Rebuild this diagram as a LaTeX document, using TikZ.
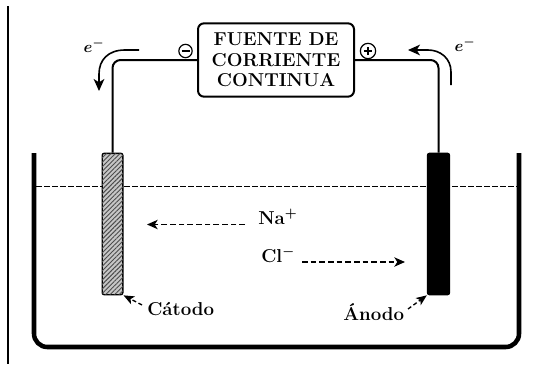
\documentclass[tikz,border=0pt]{standalone}
\usepackage{fontspec}
\usepackage{amsmath}
\usetikzlibrary{arrows.meta,patterns.meta,positioning}
\tikzset{
  x=0.75pt,y=-0.75pt,
  wire/.style={line width=1.5pt,rounded corners=6pt},
  elecbase/.style={draw=black,line width=1pt,rounded corners=1.5pt,minimum width=15.5pt,minimum height=106pt,inner sep=0pt},
  flow/.style={line width=1.2pt,-{Stealth[length=9pt,width=8pt,inset=2.5pt]}},
  ion/.style={line width=1pt,dash pattern=on 4.2pt off 2.3pt,-{Stealth[length=8pt,width=7pt,inset=2.2pt]}},
  pointer/.style={line width=1pt,dash pattern=on 3pt off 2pt,-{Stealth[length=8pt,width=6.5pt,inset=2pt]}},
  lab/.style={inner sep=0pt,font=\fontsize{14pt}{16pt}\selectfont\bfseries\addfontfeature{LetterSpace=4}},
  sign/.style={circle,draw=black,line width=0.9pt,inner sep=0pt},
  elec/.style={inner sep=0pt,font=\fontsize{13pt}{15pt}\selectfont},
}
\begin{document}
\begin{tikzpicture}
\useasboundingbox (0,0) rectangle (549,364);
\fill[white] (0,0) rectangle (549,364);
% page rule
\coordinate (ruleA) at (8,6);
\coordinate (ruleB) at (8,364);
\draw[line width=1.6pt] (ruleA) -- (ruleB);
% tank
\coordinate (tankTL) at (34,153);
\coordinate (tankBL) at (34,347);
\coordinate (tankBR) at (519,347);
\coordinate (tankTR) at (519,153);
\draw[line width=3.4pt,rounded corners=10pt] (tankTL) -- (tankBL) -- (tankBR) -- (tankTR);
% water level
\coordinate (waterL) at (36,186.5);
\coordinate (waterR) at (517,186.5);
\draw[line width=1pt,dash pattern=on 4.2pt off 1.8pt] (waterL) -- (waterR);
% electrodes
\node[elecbase,fill=gray!45,postaction={pattern={Lines[angle=45,distance=2.4pt,line width=0.7pt]},pattern color=black!70}] (cat) at (112.5,224) {};
\node[elecbase,fill=black,minimum width=16.5pt] (ano) at (438.5,224) {};
% source
\node[draw=black,line width=1.5pt,rounded corners=4.5pt,minimum width=117pt,minimum height=55pt,inner sep=0pt,align=center,
  font=\fontsize{14pt}{15.4pt}\selectfont\bfseries\addfontfeature{LetterSpace=18}] (src) at (276,60) {FUENTE DE\\CORRIENTE\\CONTINUA};
% wires
\draw[wire] (src.west) -| (cat.north);
\draw[wire] (src.east) -| (ano.north);
% signs
\node[sign,minimum size=10pt] (neg) at (185.5,51) {};
\node[sign,minimum size=11.5pt] (pos) at (368,51) {};
\draw[line width=1.1pt] ([xshift=-3pt]neg.center) -- ([xshift=3pt]neg.center);
\draw[line width=0.8pt] ([xshift=-3pt]pos.center) -- ([xshift=3pt]pos.center);
\draw[line width=0.8pt] ([yshift=-3pt]pos.center) -- ([yshift=3pt]pos.center);
% electron flow
\node[elec] (eL) at (94,46) {$\boldsymbol{e^{-}}$};
\node[elec] (eR) at (465,45) {$\boldsymbol{e^{-}}$};
\coordinate (flAs) at (139,50);
\coordinate (flAe) at (99,91);
\coordinate (frAs) at (451,85);
\coordinate (frAe) at (408,50);
\draw[flow] (flAs) -- (125,50) .. controls (108,50) and (99,60) .. (99,74) -- (flAe);
\draw[flow] (frAs) -- (451,72) .. controls (451,58) and (440,50) .. (428,50) -- (frAe);
% ions
\node[lab,anchor=base west] (na) at (258,224) {Na$^{\boldsymbol{+}}$};
\node[lab,anchor=base west] (cl) at (261,262) {Cl$^{\boldsymbol{-}}$};
\coordinate (naBeg) at (245,224.5);
\coordinate (naEnd) at (147,224.5);
\coordinate (clBeg) at (302,262);
\coordinate (clEnd) at (405,262);
\draw[ion] (naBeg) -- (naEnd);
\draw[ion] (clBeg) -- (clEnd);
% labels
\node[lab,anchor=base west] (catl) at (147,315) {Cátodo};
\node[lab,anchor=base west] (anol) at (343,320) {Ánodo};
\coordinate (catFrom) at (142,305);
\coordinate (anoFrom) at (408,309);
\draw[pointer] (catFrom) -- (cat.south east);
\draw[pointer] (anoFrom) -- (ano.south west);
\end{tikzpicture}
\end{document}
